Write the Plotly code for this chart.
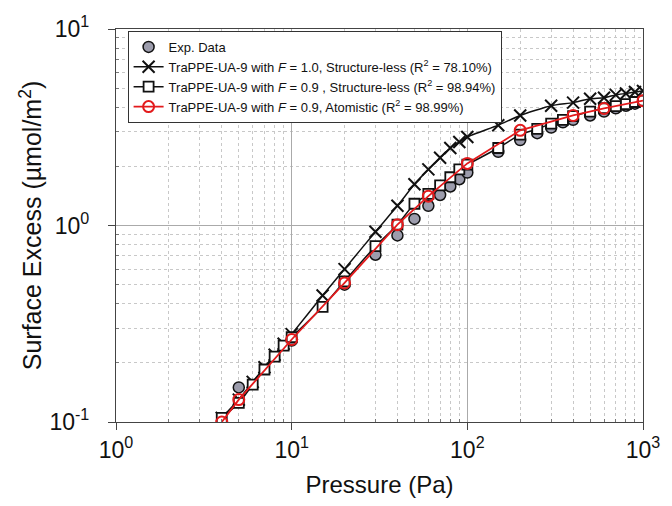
import plotly.graph_objects as go

# Exp. data
p_exp = [5, 10, 20, 30, 40, 50, 60, 70, 80, 90, 100, 150, 200, 250, 300, 350, 400, 500, 600, 700, 800, 900]
v_exp = [0.15, 0.26, 0.50, 0.71, 0.89, 1.08, 1.26, 1.43, 1.58, 1.72, 1.86, 2.37, 2.72, 2.95, 3.15, 3.35, 3.45, 3.63, 3.80, 3.95, 4.07, 4.17]

# F = 1.0, structure-less
p_f10 = [4, 5, 6, 7, 8, 9, 10, 15, 20, 30, 40, 50, 60, 70, 80, 90, 100, 150, 200, 300, 400, 500, 600, 700, 800, 900, 1000]
v_f10 = [0.105, 0.13, 0.16, 0.19, 0.22, 0.25, 0.28, 0.44, 0.60, 0.93, 1.26, 1.62, 1.93, 2.21, 2.48, 2.66, 2.82, 3.24, 3.63, 4.07, 4.22, 4.42, 4.47, 4.62, 4.70, 4.78, 4.84]

# F = 0.9, structure-less
p_f09 = [4, 5, 6, 7, 8, 9, 10, 15, 20, 30, 40, 50, 60, 70, 80, 90, 100, 150, 200, 250, 300, 350, 400, 500, 600, 700, 800, 900, 1000]
v_f09 = [0.105, 0.125, 0.155, 0.185, 0.215, 0.245, 0.27, 0.385, 0.52, 0.785, 1.01, 1.29, 1.45, 1.60, 1.76, 1.93, 2.04, 2.48, 2.90, 3.10, 3.30, 3.45, 3.60, 3.80, 3.95, 4.05, 4.15, 4.25, 4.32]

# F = 0.9, atomistic
p_at = [4, 5, 10, 20, 40, 60, 100, 200, 400, 600, 1000]
v_at = [0.10, 0.13, 0.263, 0.51, 1.01, 1.41, 2.07, 3.05, 3.63, 3.94, 4.32]

x_tickvals = [1, 10, 100, 1000]
x_ticktext = ["10<sup>0</sup>", "10<sup>1</sup>", "10<sup>2</sup>", "10<sup>3</sup>"]
y_tickvals = [0.1, 1, 10]
y_ticktext = ["10<sup>-1</sup>", "10<sup>0</sup>", "10<sup>1</sup>"]
x_minor = [m * 10 ** e for e in range(0, 3) for m in range(2, 10)]
y_minor = [m * 10.0 ** e for e in range(-1, 1) for m in range(2, 10)]

fig = go.Figure()
fig.add_trace(go.Scatter(
    x=p_exp, y=v_exp, mode="markers", name="Exp. Data",
    marker=dict(symbol="circle", size=11, color="#9c9cac", line=dict(color="#111111", width=1.5))))
fig.add_trace(go.Scatter(
    x=p_f10, y=v_f10, mode="lines+markers",
    name="TraPPE-UA-9 with <i>F</i> = 1.0, Structure-less (R<sup>2</sup> = 78.10%)",
    line=dict(color="#111111", width=1.5, shape="spline", smoothing=0.6),
    marker=dict(symbol="x-thin", size=12, line=dict(color="#111111", width=2))))
fig.add_trace(go.Scatter(
    x=p_f09, y=v_f09, mode="lines+markers",
    name="TraPPE-UA-9 with <i>F</i> = 0.9 , Structure-less (R<sup>2</sup> = 98.94%)",
    line=dict(color="#111111", width=1.5, shape="spline", smoothing=0.6),
    marker=dict(symbol="square", size=10, color="white", line=dict(color="#111111", width=1.8))))
fig.add_trace(go.Scatter(
    x=p_at, y=v_at, mode="lines+markers",
    name="TraPPE-UA-9 with <i>F</i> = 0.9, Atomistic (R<sup>2</sup> = 98.99%)",
    line=dict(color="#e31a1c", width=1.8),
    marker=dict(symbol="circle-open", size=11, color="#e31a1c", line=dict(color="#e31a1c", width=2))))

axis_common = dict(
    type="log", showline=True, linecolor="#444444", linewidth=1.2, mirror=True,
    ticks="outside", ticklen=7, tickcolor="#444444",
    showgrid=True, gridcolor="#aaaaaa", gridwidth=1,
    tickfont=dict(family="Liberation Sans, Arial", size=23, color="#111111"),
    zeroline=False,
)

fig.update_xaxes(**axis_common, range=[0, 3], tickvals=x_tickvals, ticktext=x_ticktext,
                 minor=dict(tickvals=x_minor, showgrid=True, gridcolor="#c8c8c8", griddash="dot",
                            gridwidth=1, ticks="inside", ticklen=3, tickcolor="#777777"),
                 title_text="Pressure (Pa)", title_standoff=14,
                 title_font=dict(family="Liberation Sans, Arial", size=24, color="#111111"))
fig.update_yaxes(**axis_common, range=[-1, 1], tickvals=y_tickvals, ticktext=y_ticktext,
                 ticklabelstandoff=14,
                 minor=dict(tickvals=y_minor, showgrid=True, gridcolor="#c8c8c8", griddash="dot",
                            gridwidth=1, ticks="inside", ticklen=3, tickcolor="#777777"),
                 title_text="Surface Excess (µmol/m<sup>2</sup>)", title_standoff=0,
                 title_font=dict(family="Liberation Sans, Arial", size=25, color="#111111"))

fig.update_layout(
    width=672, height=506,
    margin=dict(l=116, r=18, t=23, b=84),
    paper_bgcolor="white", plot_bgcolor="white",
    font=dict(family="Liberation Sans, Arial", color="#111111"),
    showlegend=True,
    legend=dict(x=0.022, y=0.995, xanchor="left", yanchor="top",
                bgcolor="white", bordercolor="#333333", borderwidth=1,
                font=dict(family="Liberation Sans, Arial", size=13, color="#111111"),
                tracegroupgap=0, itemwidth=30),
)

fig.write_html("out.html")
